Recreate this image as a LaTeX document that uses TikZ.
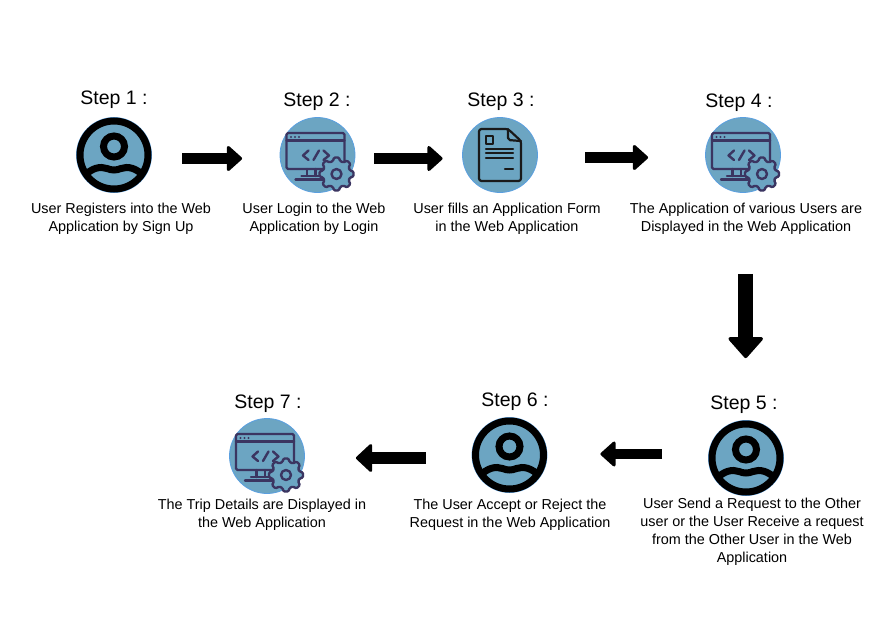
\documentclass[tikz,border=0pt]{standalone}
\usepackage{fontspec}
\setmainfont{Liberation Sans}
\usetikzlibrary{arrows.meta}
\definecolor{disc}{HTML}{6CA5C2}
\definecolor{discedge}{HTML}{5A9FE0}
\definecolor{ink}{HTML}{3B3561}
\tikzset{
  x=1pt,y=-1pt,
  disc/.style={circle,fill=disc,draw=discedge,line width=0.8pt,minimum size=75pt,inner sep=0pt},
  steplabel/.style={font=\fontsize{19.5}{22}\selectfont,inner sep=0pt,anchor=center},
  desc/.style={font=\fontsize{14.4}{18}\selectfont,inner sep=0pt,align=center,anchor=north},
  bigarrow/.style={line width=10.5pt,-{Triangle[length=16pt,width=28pt,round,line width=3pt]}},
  hugearrow/.style={line width=14.5pt,-{Triangle[length=22pt,width=38pt,round,line width=3.5pt]}},
  midarrow/.style={line width=12.5pt,-{Triangle[length=17pt,width=31pt,round,line width=3pt]}},
  pics/usericon/.style={code={
    \draw[line width=7pt,black] (0,0) circle[radius=34];
    \draw[line width=7pt,black] (0,-8.5) circle[radius=10.5];
    \clip (0,0) circle[radius=34];
    \draw[line width=7pt,black] (-30,21) .. controls (-22,13) and (-14,11) .. (-7,13.5) .. controls (-2,15.5) and (2,15.5) .. (7,13.5) .. controls (14,11) and (22,13) .. (30,21);
  }},
  pics/monitoricon/.style={code={
    \begin{scope}[draw=ink,line width=2.4pt,line join=round,line cap=round]
    \draw[rounded corners=1.5pt] (-31,-22) rectangle (27,14);
    \draw (-31,-14.5) -- (27,-14.5);
    \fill[ink] (-26.5,-18) circle[radius=1.2] (-22.5,-18) circle[radius=1.2] (-18.5,-18) circle[radius=1.2];
    \draw (-9,-4.5) -- (-14.5,0.5) -- (-9,5);
    \draw (-4,5) -- (1.5,-4.5);
    \draw (6,-4.5) -- (11.5,0.5) -- (6,5);
    \draw (-10.5,14) -- (-10.5,21) (-2,14) -- (-2,21);
    \draw (-22,24.5) -- (9,24.5);
    \draw (-16,21) -- (7,21);
    \draw[fill=disc,rounded corners=1.2pt]
      (16.5,2.5) -- (21.5,2.5) -- (22.5,6) -- (26,7.5) -- (29.5,5.5) -- (33,9) -- (31,12.5) -- (32.5,15.5) -- (36,16.5) -- (36,21.5) -- (32.5,22.5) -- (31,25.5) -- (33,29) -- (29.5,32.5) -- (26,30.5) -- (22.5,32) -- (21.5,35.5) -- (16.5,35.5) -- (15.5,32) -- (12,30.5) -- (8.5,32.5) -- (5,29) -- (7,25.5) -- (5.5,22.5) -- (2,21.5) -- (2,16.5) -- (5.5,15.5) -- (7,12.5) -- (5,9) -- (8.5,5.5) -- (12,7.5) -- (15.5,6) -- cycle;
    \draw (19,19) circle[radius=5];
    \end{scope}
  }},
  pics/docicon/.style={code={
    \begin{scope}[draw=black!90,line width=2.2pt,line join=round,line cap=round]
    \draw[rounded corners=2.5pt] (8,-26) -- (-21,-26) -- (-21,26) -- (21,26) -- (21,-14) -- cycle;
    \draw[rounded corners=2pt] (8,-26) -- (8,-15) -- (21,-14);
    \draw (-14,-19) rectangle (-7,-11);
    \draw (-14,-6) -- (13,-6) (-14,-2) -- (13,-2) (-14,3) -- (13,3);
    \draw (5,14) -- (13,14);
    \end{scope}
  }},
}
\begin{document}
\begin{tikzpicture}
\useasboundingbox[fill=white] (0,0) rectangle (895,640);

\node[disc] (s1) at (114,155) {};
\node[disc] (s2) at (317.5,155) {};
\node[disc] (s3) at (500,155) {};
\node[disc] (s4) at (743,155) {};
\node[disc] (s5) at (746,458) {};
\node[disc] (s6) at (509.5,455) {};
\node[disc] (s7) at (267,456) {};

\pic at (s1.center) {usericon};
\pic at (s2.center) {monitoricon};
\pic at (s3.center) {docicon};
\pic at (s4.center) {monitoricon};
\pic at (s5.center) {usericon};
\pic at (s6.center) {usericon};
\pic at (s7.center) {monitoricon};

\node[steplabel] (l1) at (114,100) {Step 1 :};
\node[steplabel] (l2) at (317,102) {Step 2 :};
\node[steplabel] (l3) at (501,102) {Step 3 :};
\node[steplabel] (l4) at (739,103) {Step 4 :};
\node[steplabel] (l5) at (744,405) {Step 5 :};
\node[steplabel] (l6) at (515,402) {Step 6 :};
\node[steplabel] (l7) at (268,404) {Step 7 :};

\node[desc] (t1) at (121,203) {User Registers into the Web\\Application by Sign Up};
\node[desc] (t2) at (314,203) {User Login to the Web\\Application by Login};
\node[desc] (t3) at (507,203) {User fills an Application Form\\in the Web Application};
\node[desc] (t4) at (746,203) {The Application of various Users are\\Displayed in the Web Application};
\node[desc] (t5) at (752,498) {User Send a Request to the Other\\user or the User Receive a request\\from the Other User in the Web\\Application};
\node[desc] (t6) at (510,499) {The User Accept or Reject the\\Request in the Web Application};
\node[desc] (t7) at (262,499) {The Trip Details are Displayed in\\the Web Application};

\draw[bigarrow,shorten <=30.5pt,shorten >=37.5pt] ([yshift=-3.5pt]s1.east) -- ([yshift=-3.5pt]s2.west);
\draw[bigarrow,shorten <=19pt,shorten >=19.5pt] ([yshift=-3.5pt]s2.east) -- ([yshift=-3.5pt]s3.west);
\draw[bigarrow,shorten <=47.5pt,shorten >=57pt] ([yshift=-2.5pt]s3.east) -- ([yshift=-2.5pt]s4.west);
\draw[hugearrow,shorten <=81pt,shorten >=62pt] ([xshift=2.7pt]s4.south) -- ([xshift=-0.3pt]s5.north);
\draw[bigarrow,shorten <=46pt,shorten >=53pt] ([yshift=4pt]s5.west) -- ([yshift=1pt]s6.east);
\draw[midarrow,shorten <=46pt,shorten >=51pt] ([yshift=-3pt]s6.west) -- ([yshift=-2pt]s7.east);
\end{tikzpicture}
\end{document}
